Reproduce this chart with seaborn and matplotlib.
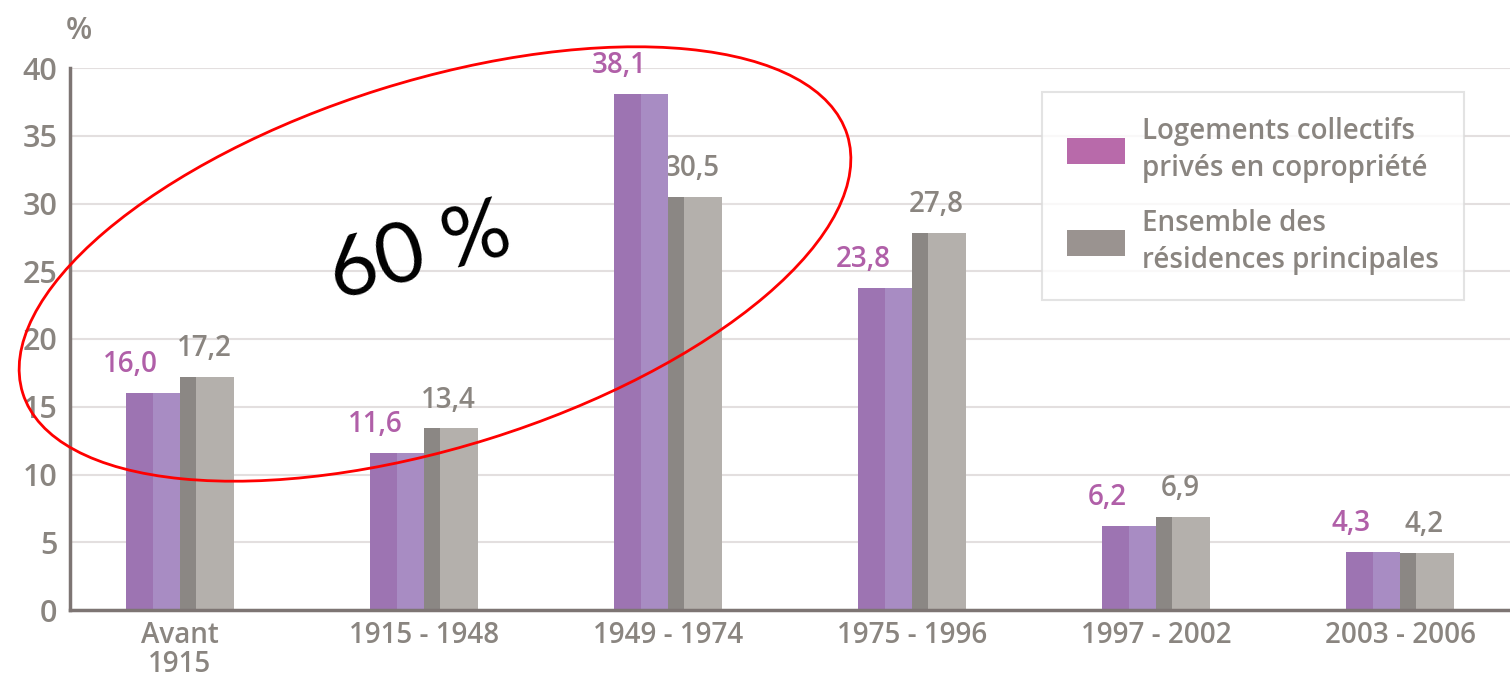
import matplotlib
matplotlib.use("Agg")
import matplotlib.pyplot as plt
import seaborn as sns
import pandas as pd
from matplotlib.patches import Rectangle, Ellipse, Patch
from matplotlib.ticker import FixedLocator

# DONNEES

periodes = ["Avant\n1915", "1915 - 1948", "1949 - 1974", "1975 - 1996", "1997 - 2002", "2003 - 2006"]
copro = [16.0, 11.6, 38.1, 23.8, 6.2, 4.3]
ensemble = [17.2, 13.4, 30.5, 27.8, 6.9, 4.2]
series = ["Logements collectifs\nprivés en copropriété", "Ensemble des\nrésidences principales"]

df = pd.DataFrame({
    "periode": periodes * 2,
    "valeur": copro + ensemble,
    "serie": [series[0]] * len(periodes) + [series[1]] * len(periodes),
})

# couleurs
violet_fonce = "#9d74b2"
violet_clair = "#a88cc3"
gris_fonce = "#8b8784"
gris_clair = "#b4b0ac"
texte_gris = "#8a8580"
texte_violet = "#b05fa8"
axe = "#7d7573"

sns.set_style("white")
plt.rcParams["font.family"] = ["Open Sans", "DejaVu Sans"]
plt.rcParams["patch.force_edgecolor"] = False

fig = plt.figure(figsize=(15.1, 6.88), dpi=100)
ax = fig.add_axes([70 / 1510, 78 / 688, 1440 / 1510, 542 / 688])

sns.barplot(data=df, x="periode", y="valeur", hue="serie",
            palette=[violet_fonce, gris_fonce], width=0.44,
            saturation=1, ax=ax, legend=False, zorder=3,
            linewidth=0, edgecolor="none")

# effet relief : partie droite plus claire
for cont, clair, part in zip(ax.containers, [violet_clair, gris_clair], [0.5, 0.3]):
    for b in cont:
        x0, w, h = b.get_x(), b.get_width(), b.get_height()
        ax.add_patch(Rectangle((x0 + w * part, 0), w * (1 - part), h,
                               facecolor=clair, edgecolor="none", lw=0, zorder=3.5))

# etiquettes de valeurs
for cont, vals, col, dx in zip(ax.containers, [copro, ensemble],
                               [texte_violet, texte_gris], [-16, -2]):
    txts = ax.bar_label(cont, labels=[f"{v:.1f}".replace(".", ",") for v in vals],
                        padding=8, color=col, fontsize=20, fontweight="semibold")
    for t in txts:
        t.xyann = (dx, 10)

ax.set_ylim(0, 40)
ax.set_xlim(-0.45, 5.45)
ax.set_yticks(range(0, 41, 5))
ax.set_xlabel("")
ax.set_ylabel("")

ax.grid(axis="y", color="#e3dfdf", linewidth=1.5)
ax.set_axisbelow(True)
for s in ["top", "right"]:
    ax.spines[s].set_visible(False)
for s in ["left", "bottom"]:
    ax.spines[s].set_color(axe)
    ax.spines[s].set_linewidth(2.5)
    ax.spines[s].set_zorder(5)

ax.tick_params(axis="y", direction="in", length=17, width=2, color=axe,
               labelsize=22, labelcolor=texte_gris, pad=9)
ax.tick_params(axis="x", which="major", length=0, labelsize=20,
               labelcolor=texte_gris, pad=8)
ax.xaxis.set_minor_locator(FixedLocator([0.5, 1.5, 2.5, 3.5, 4.5, 5.44]))
ax.tick_params(axis="x", which="minor", direction="out", length=16,
               width=2, color=axe)
for lab in ax.get_xticklabels() + ax.get_yticklabels():
    lab.set_fontweight("semibold")
for lab in ax.get_xticklabels():
    lab.set_linespacing(1.0)

ax.text(-0.003, 1.068, "%", transform=ax.transAxes, fontsize=22,
        fontweight="semibold", color=texte_gris, ha="left", va="center")

# legende
handles = [Patch(facecolor="#b86aaa", edgecolor="none"),
           Patch(facecolor="#9a9390", edgecolor="none")]
leg = ax.legend(handles, series, loc="upper left", bbox_to_anchor=(0.675, 0.956),
                borderaxespad=0, fontsize=20, labelcolor=texte_gris,
                handlelength=2.1, handleheight=1.05, labelspacing=0.95,
                handletextpad=0.6, borderpad=0.9, fancybox=False,
                frameon=True, edgecolor="#dcdcdc")
leg.get_frame().set_linewidth(1.5)
for t in leg.get_texts():
    t.set_fontweight("semibold")
    t.set_linespacing(1.35)

# annotation : ellipse rouge et "60 %"
ov = fig.add_axes([0, 0, 1, 1])
ov.set_xlim(0, 1510)
ov.set_ylim(688, 0)
ov.axis("off")
ov.add_patch(Ellipse((435, 264), 864, 366, angle=-17.4, fill=False,
                     edgecolor="red", linewidth=2))
ov.text(420, 254, "60 %", fontsize=60, color="black", rotation=15,
        ha="center", va="center", family=["Lato", "DejaVu Sans"])

fig.savefig("out.png", dpi=100)
